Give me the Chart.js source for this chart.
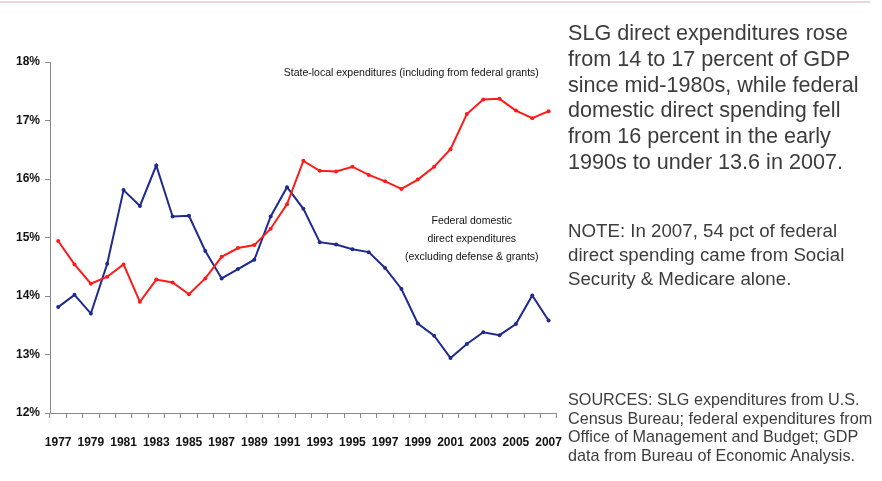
<!DOCTYPE html>
<html>
<head>
<meta charset="utf-8">
<script src="https://cdn.jsdelivr.net/npm/chart.js@4.4.1/dist/chart.umd.min.js"></script>
<style>
    html, body { margin: 0; padding: 0; background: #fff; }
    body { width: 882px; height: 481px; position: relative; overflow: hidden; font-family: "Liberation Sans", Arial, sans-serif; color: #3c3c3c; }
    #topRule { position: absolute; left: 0; top: 1px; width: 870px; height: 2px; background: #ecd6dd; }
    #chartBox { position: absolute; left: 0; top: 0; width: 579px; height: 481px; }
    .txt { position: absolute; left: 568px; white-space: nowrap; }
    #summary { top: 20px; font-size: 21.6px; line-height: 25.8px; }
    #note { top: 219px; font-size: 18.7px; line-height: 23.8px; }
    #sources { top: 390px; font-size: 16.2px; line-height: 18.5px; }
</style>
</head>
<body>
<div id="topRule"></div>
<div id="chartBox"><canvas id="spendChart" width="579" height="481"></canvas></div>
<div class="txt" id="summary">SLG direct expenditures rose<br>from 14 to 17 percent of GDP<br>since mid-1980s, while federal<br>domestic direct spending fell<br>from 16 percent in the early<br>1990s to under 13.6 in 2007.</div>
<div class="txt" id="note">NOTE: In 2007, 54 pct of federal<br>direct spending came from Social<br>Security &amp; Medicare alone.</div>
<div class="txt" id="sources">SOURCES: SLG expenditures from U.S.<br>Census Bureau; federal expenditures from<br>Office of Management and Budget; GDP<br>data from Bureau of Economic Analysis.</div>

<script>
// Datos (% del PIB)
const years = ['1977', '1978', '1979', '1980', '1981', '1982', '1983', '1984', '1985', '1986',
    '1987', '1988', '1989', '1990', '1991', '1992', '1993', '1994', '1995', '1996',
    '1997', '1998', '1999', '2000', '2001', '2002', '2003', '2004', '2005', '2006', '2007'];

const stateLocal = [14.94, 14.54, 14.21, 14.33, 14.54, 13.90, 14.28, 14.23, 14.03, 14.30,
    14.67, 14.82, 14.87, 15.15, 15.57, 16.31, 16.14, 16.13, 16.21, 16.07,
    15.96, 15.83, 15.99, 16.21, 16.51, 17.11, 17.36, 17.37, 17.17, 17.04, 17.16];

const federalDomestic = [13.81, 14.02, 13.70, 14.55, 15.81, 15.54, 16.23, 15.36, 15.37, 14.77,
    14.30, 14.46, 14.62, 15.36, 15.86, 15.49, 14.92, 14.88, 14.80, 14.75,
    14.48, 14.12, 13.53, 13.32, 12.94, 13.18, 13.38, 13.33, 13.52, 14.01, 13.58];

const yTicks = [12, 13, 14, 15, 16, 17, 18];

const stateLabel = ['State-local expenditures (including from federal grants)'];
const federalLabel = ['Federal domestic', 'direct expenditures', '(excluding defense & grants)'];

const axisFont = { family: '"Liberation Sans", Arial, sans-serif', size: 12, weight: 'bold' };
const noteFont = '10.5px "Liberation Sans", Arial, sans-serif';

// Etiquetas dentro del area del grafico
const seriesNotes = {
    id: 'seriesNotes',
    afterDatasetsDraw(chart) {
        const { ctx, scales: { x, y } } = chart;
        const step = x.getPixelForValue(1) - x.getPixelForValue(0);
        ctx.save();
        ctx.font = noteFont;
        ctx.fillStyle = '#111';
        ctx.textAlign = 'center';
        ctx.textBaseline = 'middle';
        const sx = x.getPixelForValue(21) + step * 0.6;
        stateLabel.forEach((line, i) => ctx.fillText(line, sx, y.getPixelForValue(17.81) + i * 18));
        const fx = x.getPixelForValue(25) + step * 0.3;
        federalLabel.forEach((line, i) => ctx.fillText(line, fx, y.getPixelForValue(15.28) + i * 18));
        ctx.restore();
    }
};

const renderChart = () => {
    new Chart(document.getElementById('spendChart'), {
        type: 'line',
        data: {
            labels: years,
            datasets: [
                {
                    label: 'State-local',
                    data: stateLocal,
                    borderColor: '#ff1a1a',
                    backgroundColor: '#ff1a1a',
                    borderWidth: 2,
                    pointRadius: 2,
                    pointBorderWidth: 0,
                    tension: 0,
                },
                {
                    label: 'Federal domestic',
                    data: federalDomestic,
                    borderColor: '#1f2a8e',
                    backgroundColor: '#1f2a8e',
                    borderWidth: 2,
                    pointRadius: 2,
                    pointBorderWidth: 0,
                    tension: 0,
                },
            ],
        },
        options: {
            responsive: false,
            animation: false,
            layout: { padding: { top: 62, right: 0, left: 0, bottom: 0 } },
            plugins: {
                legend: { display: false },
                tooltip: { enabled: false },
            },
            scales: {
                x: {
                    type: 'category',
                    offset: true,
                    grid: { offset: true, drawOnChartArea: false, drawTicks: true, tickLength: 5, color: '#8a8a8a' },
                    border: { color: '#8a8a8a', width: 1 },
                    ticks: {
                        autoSkip: false,
                        maxRotation: 0,
                        padding: 17,
                        color: '#111',
                        font: axisFont,
                        callback: (v, i) => (i % 2 === 0 ? years[i] : ''),
                    },
                    afterFit: (scale) => { scale.height = 68; },
                },
                y: {
                    min: 12,
                    max: 18,
                    afterBuildTicks: (scale) => { scale.ticks = yTicks.map(v => ({ value: v })); },
                    grid: { drawOnChartArea: false, drawTicks: true, tickLength: 5, color: '#8a8a8a' },
                    border: { color: '#8a8a8a', width: 1 },
                    ticks: {
                        padding: 5,
                        color: '#111',
                        font: axisFont,
                        callback: (v) => v + '%',
                    },
                    afterFit: (scale) => { scale.width = 50; },
                },
            },
        },
        plugins: [seriesNotes],
    });
};

renderChart();
</script>
</body>
</html>
